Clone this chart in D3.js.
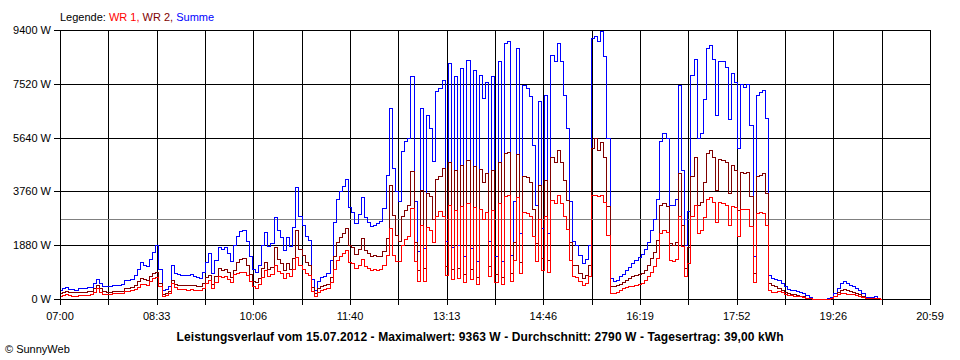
<!DOCTYPE html>
<html>
<head>
<meta charset="utf-8">
<script src="https://cdn.jsdelivr.net/npm/d3@7"></script>
<style>
body { margin: 0; background: #fff; }
svg text { font-family: "Liberation Sans", Arial, sans-serif; font-size: 11px; fill: #000; }
</style>
</head>
<body>
<svg id="chart"></svg>
<script>
// SunnyWeb Leistungsverlauf, 15.07.2012, Werte alle 3 Minuten ab 07:00
const stepMinutes = 3;
const spanMinutes = 839; // 07:00 .. 20:59
const yTicks = [0, 1880, 3760, 5640, 7520, 9400];
const timeLabels = ["07:00", "08:33", "10:06", "11:40", "13:13", "14:46", "16:19", "17:52", "19:26", "20:59"];
const average = 2790;
const titleText = "Leistungsverlauf vom 15.07.2012 - Maximalwert: 9363 W - Durchschnitt: 2790 W - Tagesertrag: 39,00 kWh";

const summe = [
  310, 380, 420, 360, 340, 330, 370, 400, 380, 410,
  430, 560, 690, 560, 460, 450, 470, 490, 480, 500,
  520, 650, 660, 700, 840, 1050, 1280, 1200, 1150, 1400,
  1650, 1890, 1050, 330, 360, 460, 1190, 920, 860, 840,
  850, 830, 860, 820, 760, 740, 950, 1300, 1600, 900,
  1380, 1830, 1760, 1820, 1600, 1330, 1880, 2200, 2360, 2410,
  2020, 1500, 1050, 950, 1200, 1900, 2330, 1850, 1950, 2880,
  2400, 2150, 1720, 2180, 1850, 2500, 3900, 2900, 2600, 2200,
  2050, 700, 330, 620, 760, 820, 900, 1360, 2700, 3500,
  3760, 3950, 4200, 3200, 3050, 2650, 2980, 3550, 2850, 2680,
  2550, 2600, 2650, 2720, 3180, 4350, 6680, 4580, 3760, 3410,
  5160, 5510, 5630, 7780, 3410, 1670, 6680, 1780, 6440, 5980,
  4810, 7260, 7370, 7670, 2020, 8250, 1800, 7800, 1900, 8070,
  1500, 8360, 1780, 8010, 1320, 7840, 7010, 7600, 2020, 7780,
  1500, 8300, 1320, 8950, 9000, 1550, 3410, 8770, 2300, 7490,
  7370, 7100, 5390, 3300, 6910, 2480, 7140, 2300, 8540, 8300,
  8950, 8300, 7140, 5980, 3410, 2020, 1900, 1550, 1270, 1400,
  1900, 9120, 9180, 9000, 9363, 8500, 5630, 730, 640, 680,
  800, 880, 1000, 1120, 1250, 1380, 1480, 1580, 1750, 2000,
  2400, 2800, 3500, 5510, 5800, 5630, 3300, 3300, 3500, 7490,
  4500, 1900, 3060, 7840, 8400, 5630, 5800, 7000, 8770, 8890,
  8400, 6440, 8300, 8300, 8100, 6300, 7900, 7600, 5280, 7500,
  7400, 7500, 6090, 1500, 7140, 7250, 7300, 6330, 850, 730,
  700, 650, 560, 450, 360, 330, 315, 290, 260, 220,
  140, 70, 0, 0, 0, 0, 0, 30, 80, 200,
  400, 550, 640, 560, 480, 440, 400, 330, 200, 70,
  60, 80, 115, 50, 0
];

const wr2 = [
  220, 250, 270, 240, 230, 230, 250, 260, 250, 270,
  280, 380, 490, 380, 290, 260, 260, 270, 270, 280,
  290, 380, 400, 420, 500, 640, 720, 690, 680, 800,
  900, 960, 560, 180, 210, 280, 660, 540, 500, 490,
  490, 490, 500, 480, 450, 440, 560, 760, 850, 520,
  800, 1070, 1030, 1060, 930, 780, 1000, 1280, 1410, 1450,
  1180, 860, 620, 580, 720, 1100, 1280, 1050, 1130, 1830,
  1400, 1250, 1000, 1260, 1050, 1450, 2400, 1750, 1550, 1300,
  1200, 420, 200, 370, 440, 480, 520, 780, 1500, 2000,
  2150, 2300, 2480, 1900, 1800, 1560, 1750, 2120, 1700, 1600,
  1520, 1540, 1490, 1500, 1670, 2130, 4000, 2950, 2250, 2020,
  2900, 3100, 3300, 4460, 2000, 1000, 3800, 1080, 3700, 3600,
  2800, 4200, 4300, 4580, 1150, 4800, 1050, 4500, 1100, 4700,
  880, 4850, 1050, 4650, 770, 4550, 4100, 4400, 1150, 4500,
  870, 4800, 770, 5100, 5150, 900, 2000, 5050, 1300, 4300,
  4250, 4100, 3150, 1950, 4000, 1450, 4150, 1350, 4950, 4800,
  5200, 4800, 4150, 3450, 2000, 1200, 1200, 920, 750, 850,
  1200, 5280, 5630, 5200, 5500, 4950, 3250, 440, 450, 480,
  540, 590, 660, 730, 800, 850, 890, 920, 1020, 1200,
  1450, 1650, 2050, 3300, 3350, 3250, 1950, 1900, 2000, 4400,
  2600, 1100, 1800, 4300, 4950, 3300, 3400, 4100, 5100, 5200,
  4950, 3800, 4900, 4850, 4800, 3700, 4700, 4500, 3100, 4450,
  4400, 4450, 3600, 900, 4300, 4350, 4400, 3700, 560, 480,
  460, 370, 320, 250, 200, 180, 160, 140, 120, 90,
  50, 30, 0, 0, 0, 0, 0, 10, 40, 110,
  230, 330, 350, 330, 290, 240, 220, 160, 100, 30,
  30, 40, 50, 20, 0
];

const wr1 = [
  110, 140, 160, 130, 120, 110, 130, 150, 140, 150,
  160, 230, 370, 250, 190, 180, 190, 200, 200, 210,
  220, 270, 290, 300, 360, 430, 540, 510, 500, 620,
  720, 780, 440, 110, 140, 200, 550, 420, 360, 350,
  340, 330, 350, 330, 310, 300, 400, 560, 660, 400,
  580, 820, 780, 800, 700, 580, 880, 920, 950, 960,
  830, 640, 450, 400, 520, 780, 1000, 820, 860, 1190,
  980, 900, 720, 920, 800, 1050, 1480, 1200, 1050, 900,
  850, 280, 120, 260, 320, 350, 380, 580, 1050, 1350,
  1500, 1620, 1720, 1300, 1250, 1100, 1200, 1400, 1150, 1100,
  1030, 1060, 1030, 1040, 1200, 1550, 2480, 1550, 1320, 1320,
  1900, 2100, 2200, 3180, 1320, 620, 2600, 620, 2500, 2400,
  2000, 2900, 3060, 2900, 850, 3300, 700, 3100, 750, 3250,
  600, 3350, 700, 3200, 520, 3150, 2800, 3050, 800, 3100,
  600, 3350, 520, 3600, 3650, 620, 1380, 3550, 900, 3050,
  3000, 2900, 2200, 1330, 2800, 1000, 2900, 930, 3450, 3350,
  3650, 3350, 2900, 2450, 1380, 820, 760, 620, 500, 560,
  800, 3620, 3650, 3600, 3650, 3400, 2250, 210, 220, 250,
  330, 370, 410, 440, 470, 500, 530, 570, 680, 800,
  950, 1150, 1450, 2300, 2400, 2330, 1350, 1320, 1400, 2900,
  1850, 800, 1250, 2900, 3300, 2300, 2400, 2850, 3500, 3550,
  3400, 2700, 3400, 3370, 3300, 2600, 3250, 3200, 2200, 3150,
  3150, 3150, 2550, 600, 3000, 3050, 3000, 2600, 300, 240,
  230, 280, 240, 190, 150, 130, 120, 110, 90, 70,
  40, 20, 0, 0, 0, 0, 0, 10, 30, 90,
  160, 200, 210, 190, 180, 160, 140, 100, 60, 20,
  20, 30, 40, 20, 0
];

const series = [
  { name: "Summe", values: summe, color: "#0000ff" },
  { name: "WR 2", values: wr2, color: "#800000" },
  { name: "WR 1", values: wr1, color: "#ff0000" }
];

const width = 960;
const height = 360;
const plot = { left: 60, right: 930, top: 30, bottom: 299 };

const svg = d3.select("#chart")
  .attr("width", width)
  .attr("height", height)
  .attr("viewBox", [0, 0, width, height]);

svg.append("rect").attr("width", width).attr("height", height).attr("fill", "#fff");

const x = d3.scaleLinear().domain([0, spanMinutes]).range([plot.left, plot.right]);
const y = d3.scaleLinear().domain([0, yTicks[yTicks.length - 1]]).range([plot.bottom, plot.top]);

// 18 grid intervals, every second one labelled
const gridTimes = d3.range(0, 19).map(k => k * spanMinutes / 18);

const grid = svg.append("g").attr("shape-rendering", "crispEdges");

grid.selectAll("line.v")
  .data(gridTimes)
  .join("line")
  .attr("class", "v")
  .attr("x1", d => Math.round(x(d)) + 0.5)
  .attr("x2", d => Math.round(x(d)) + 0.5)
  .attr("y1", plot.top)
  .attr("y2", plot.bottom + 6)
  .attr("stroke", "#000");

grid.selectAll("line.h")
  .data(yTicks)
  .join("line")
  .attr("class", "h")
  .attr("x1", plot.left - 6)
  .attr("x2", plot.right + 1)
  .attr("y1", d => Math.round(y(d)) + 0.5)
  .attr("y2", d => Math.round(y(d)) + 0.5)
  .attr("stroke", "#000");

// Durchschnitt
grid.append("line")
  .attr("x1", plot.left + 1)
  .attr("x2", plot.right)
  .attr("y1", Math.round(y(average)) + 0.5)
  .attr("y2", Math.round(y(average)) + 0.5)
  .attr("stroke", "#808080");

svg.append("g")
  .selectAll("text")
  .data(yTicks)
  .join("text")
  .attr("x", 51)
  .attr("y", d => Math.round(y(d)) + 4)
  .attr("text-anchor", "end")
  .text(d => d + " W");

svg.append("g")
  .selectAll("text")
  .data(timeLabels)
  .join("text")
  .attr("x", (d, i) => x(i * spanMinutes / 9))
  .attr("y", 320)
  .attr("text-anchor", "middle")
  .text(d => d);

// step curve gives the hard vertical edges of the original plot
const line = d3.line()
  .defined(d => d != null)
  .curve(d3.curveStep)
  .x((d, i) => Math.round(x(i * stepMinutes)) + 0.5)
  .y(d => Math.round(y(d)) + 0.5);

svg.append("g")
  .attr("shape-rendering", "crispEdges")
  .selectAll("path")
  .data(series)
  .join("path")
  .attr("d", d => line(d.values))
  .attr("fill", "none")
  .attr("stroke", d => d.color)
  .attr("stroke-width", 1);

// Legende
const legend = svg.append("text").attr("x", 60).attr("y", 21);
legend.append("tspan").text("Legende: ");
legend.append("tspan").style("fill", "#ff0000").text("WR 1, ");
legend.append("tspan").style("fill", "#800000").text("WR 2, ");
legend.append("tspan").style("fill", "#0000ff").text("Summe");

svg.append("text")
  .attr("x", 480)
  .attr("y", 341)
  .attr("text-anchor", "middle")
  .style("font-weight", "bold")
  .style("font-size", "12px")
  .attr("textLength", 607)
  .attr("lengthAdjust", "spacing")
  .text(titleText);

svg.append("text")
  .attr("x", 5)
  .attr("y", 353)
  .text("\u00a9 SunnyWeb");
</script>
</body>
</html>
